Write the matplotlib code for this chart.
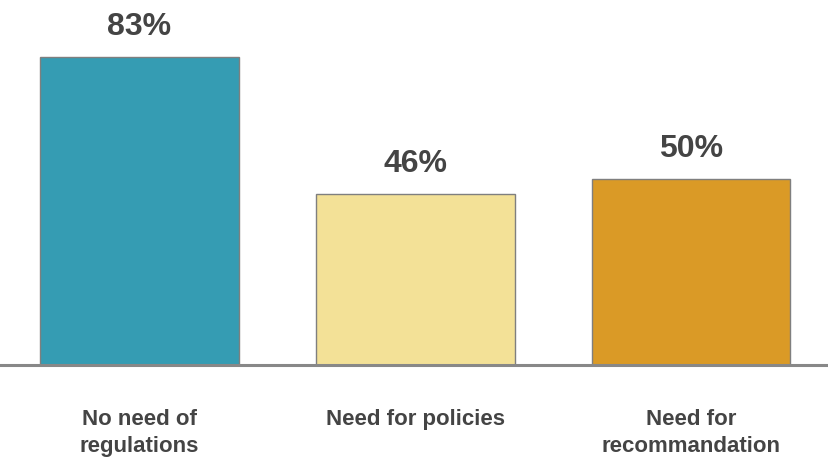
import matplotlib.pyplot as plt

categories = ['No need of\nregulations', 'Need for policies', 'Need for\nrecommandation']
values = [83, 46, 50]
colors = ['#359cb3', '#f3e197', '#da9a26']

plt.rcParams['font.family'] = ['Liberation Sans', 'DejaVu Sans']

fig = plt.figure(figsize=(8.29, 4.58), dpi=100)
ax = fig.add_axes([0, 0.203, 1, 0.797])

x = range(len(values))
bars = ax.bar(x, values, width=0.72, color=colors, edgecolor='#7f7f7f', linewidth=1.0, zorder=2)

ax.set_xlim(-0.505, 2.5)
ax.set_ylim(0, 98.3)
ax.axhline(0, color='#888888', linewidth=2.2, zorder=3, clip_on=False)

for i, v in enumerate(values):
    ax.annotate('%d%%' % v, xy=(i, v), xytext=(0, 11), textcoords='offset points',
                ha='center', va='bottom', fontsize=23, fontweight='bold', color='#444444')
    ax.annotate(categories[i], xy=(i, 0), xytext=(0, -32), textcoords='offset points',
                ha='center', va='top', fontsize=16, fontweight='bold', color='#444444',
                linespacing=1.32, annotation_clip=False)

ax.axis('off')
fig.savefig('out.png', dpi=100)
